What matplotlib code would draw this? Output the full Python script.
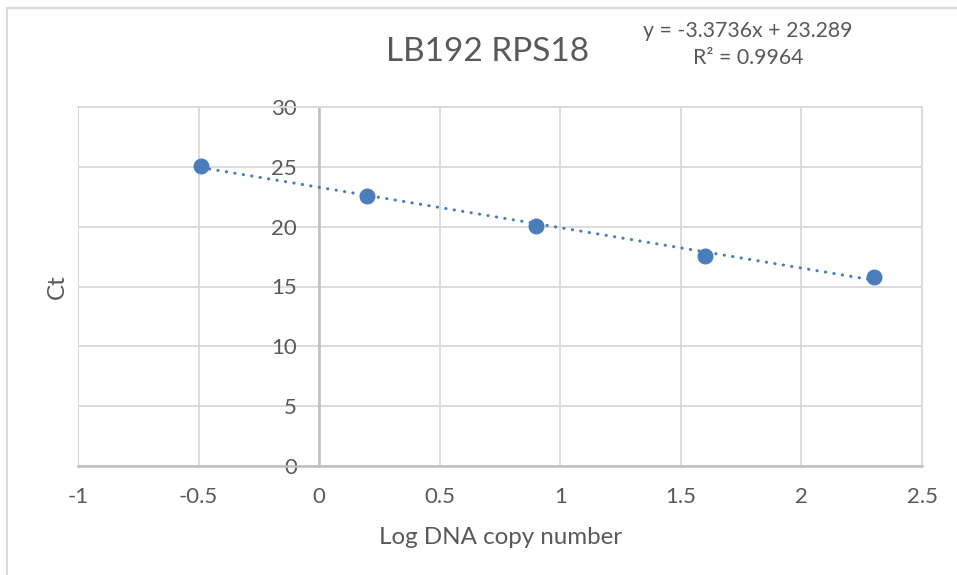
import matplotlib
matplotlib.use("Agg")
import matplotlib.pyplot as plt
from matplotlib.lines import Line2D
import numpy as np

# Standard curve data
log_copies = [-0.49, 0.2, 0.9, 1.6, 2.3]
ct_values = [25.08, 22.58, 20.08, 17.58, 15.83]

# Linear trendline reported on the chart
slope = -3.3736
intercept = 23.289
r_squared = 0.9964

x_ticks = [-1, -0.5, 0, 0.5, 1, 1.5, 2, 2.5]
x_tick_labels = ["-1", "-0.5", "0", "0.5", "1", "1.5", "2", "2.5"]
y_ticks = [0, 5, 10, 15, 20, 25, 30]

title = "LB192 RPS18"
x_title = "Log DNA copy number"
y_title = "Ct"

plt.rcParams["font.family"] = ["Lato", "DejaVu Sans"]
text_color = "#595959"
grid_color = "#d9d9d9"
axis_color = "#bfbfbf"
point_color = "#4a7ebb"

fig = plt.figure(figsize=(9.57, 5.75), dpi=100)
ax = fig.add_axes([78 / 957, 1 - 466 / 575, (922 - 78) / 957, (466 - 107) / 575])

ax.set_xlim(-1, 2.5)
ax.set_ylim(0, 30)
ax.set_xticks(x_ticks)
ax.set_xticklabels(x_tick_labels)
ax.set_yticks(y_ticks)

ax.grid(True, color=grid_color, linewidth=1.3, zorder=0)
ax.set_axisbelow(True)

for side in ["top", "right"]:
    ax.spines[side].set_color(grid_color)
    ax.spines[side].set_linewidth(1.3)
ax.spines["left"].set_position(("data", 0))
ax.spines["left"].set_color(axis_color)
ax.spines["left"].set_linewidth(1.8)
ax.spines["bottom"].set_color(axis_color)
ax.spines["bottom"].set_linewidth(1.8)
# left edge of the plot area
ax.axvline(-1, color=grid_color, linewidth=1.3, zorder=0)

ax.tick_params(axis="both", length=0, labelsize=16, labelcolor=text_color)
ax.tick_params(axis="x", pad=15)
ax.tick_params(axis="y", pad=16)

# trendline
xt = np.linspace(min(log_copies), max(log_copies), 200)
ax.plot(xt, slope * xt + intercept, linestyle=(0, (0.1, 2.7)), color=point_color,
        linewidth=2.2, dash_capstyle="round", zorder=3)

ax.plot(log_copies, ct_values, "o", color=point_color, markersize=10.5, zorder=4,
        clip_on=False)

fig.text(488 / 957, 1 - 52 / 575, title, ha="center", va="center",
         fontsize=24, color=text_color)
fig.text(748 / 957, 1 - 31 / 575, f"y = {slope}x + {intercept}", ha="center",
         va="center", fontsize=15.3, color=text_color)
fig.text(748 / 957, 1 - 58 / 575, f"R\u00b2 = {r_squared}", ha="center",
         va="center", fontsize=15.3, color=text_color)

fig.text(501 / 957, 1 - 537 / 575, x_title, ha="center", va="center",
         fontsize=17.4, color=text_color)
fig.text(57 / 957, 1 - 287 / 575, y_title, ha="center", va="center",
         fontsize=17.4, color=text_color, rotation=90)

# chart area border
fig.add_artist(Line2D([7.5 / 957, 7.5 / 957], [0, 1 - 7.5 / 575],
                      transform=fig.transFigure, color="#d9d9d9", linewidth=1.5))
fig.add_artist(Line2D([7.5 / 957, 1], [1 - 7.5 / 575, 1 - 7.5 / 575],
                      transform=fig.transFigure, color="#d9d9d9", linewidth=1.5))

fig.savefig("out.png", dpi=100, facecolor="white")
